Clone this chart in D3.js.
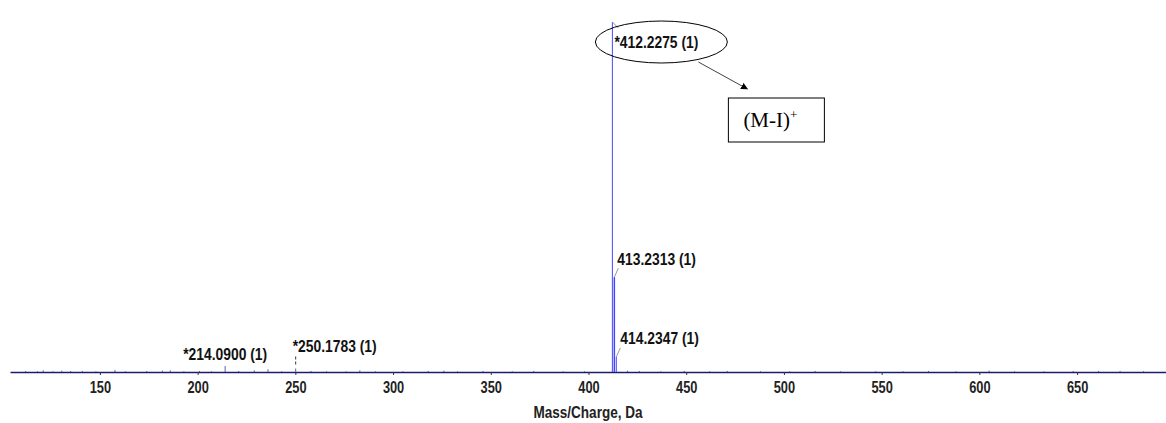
<!DOCTYPE html>
<html>
<head>
<meta charset="utf-8">
<script src="https://cdn.jsdelivr.net/npm/d3@7"></script>
<style>
  body { margin: 0; background: #fff; }
  svg text { font-family: "Liberation Sans Narrow", "Arial Narrow", "Liberation Sans", sans-serif; }
</style>
</head>
<body>
<svg id="canvas"></svg>
<script>
let width = 1166
let height = 423

// labelled peaks (m/z, relative intensity %)
let peakMz = [412.2275, 413.2313, 414.2347, 214.0900, 250.1783]
let peakInt = [100, 27.1, 4.3, 1.7, 1.0]
let peakLabels = ['*412.2275 (1)', '413.2313 (1)', '414.2347 (1)', '*214.0900 (1)', '*250.1783 (1)']

// small unlabelled peaks along the baseline
let noiseMz = [112, 118, 121, 126, 130.5, 135, 141, 148, 157.7, 163, 174, 182, 186, 193, 201, 207, 221, 229, 236, 243, 258, 266, 276, 283, 291, 305, 318, 326, 333, 346, 361, 372, 387, 398, 420, 426, 437, 449, 462, 471, 488, 503, 516, 529, 547, 561, 574, 588, 605, 618, 633, 648, 661, 672, 684]
let noiseInt = [0.3, 0.2, 0.5, 0.2, 0.4, 0.3, 0.3, 0.2, 0.6, 0.2, 0.3, 0.4, 0.5, 0.2, 0.3, 0.2, 0.3, 0.5, 0.8, 0.2, 0.3, 0.2, 0.2, 0.5, 0.2, 0.2, 0.3, 0.4, 0.2, 0.3, 0.2, 0.3, 0.2, 0.2, 0.4, 0.3, 0.2, 0.3, 0.2, 0.3, 0.2, 0.2, 0.3, 0.2, 0.2, 0.2, 0.3, 0.2, 0.4, 0.2, 0.2, 0.3, 0.3, 0.3, 0.2]

let tickValues = [150, 200, 250, 300, 350, 400, 450, 500, 550, 600, 650]
let xTitle = 'Mass/Charge, Da'
let ionText = '(M-I)'
let ionSup = '+'

let canvas = d3.select('#canvas')
canvas.attr('width', width)
      .attr('height', height)

let xScale = d3.scaleLinear()
               .domain([104, 695.5])
               .range([10, 1166])

let yScale = d3.scaleLinear()
               .domain([0, 100])
               .range([372, 22])

// squeeze text horizontally to mimic a narrow font
function narrow(sel, k) {
  sel.each(function() {
    let w = this.getComputedTextLength()
    d3.select(this).attr('textLength', w * (k || 0.85)).attr('lengthAdjust', 'spacingAndGlyphs')
  })
}

/*baseline noise*/
canvas.append('g')
  .selectAll('line')
  .data(noiseMz.map((m, i) => ({ m: m, v: noiseInt[i] })))
  .enter()
  .append('line')
  .attr('x1', d => xScale(d.m))
  .attr('x2', d => xScale(d.m))
  .attr('y1', yScale(0) + 1)
  .attr('y2', d => yScale(d.v))
  .attr('stroke', '#6a6ab8')
  .attr('stroke-width', 1)

/*axis*/
let axis = canvas.append('g')
  .attr('transform', 'translate(0,' + yScale(0) + ')')
  .call(d3.axisBottom(xScale).tickValues(tickValues).tickSize(3).tickPadding(7).tickSizeOuter(0))
axis.select('.domain').attr('stroke', '#1c1c6e').attr('stroke-width', 1.6)
axis.selectAll('.tick line').attr('stroke', '#333')
axis.selectAll('.tick text')
  .attr('font-size', 16)
  .attr('font-family', '"Liberation Sans Narrow", "Arial Narrow", "Liberation Sans", sans-serif')
  .attr('font-weight', 'bold')
  .attr('fill', '#222')
  .call(narrow, 0.8)

canvas.append('text')
  .attr('x', 588)
  .attr('y', 418)
  .attr('text-anchor', 'middle')
  .attr('font-size', 16.5)
  .attr('font-weight', 'bold')
  .attr('fill', '#222')
  .text(xTitle)
  .call(narrow, 0.82)

/*peaks*/
let peaks = peakMz.map((m, i) => ({ m: m, v: peakInt[i], label: peakLabels[i] }))
canvas.append('g')
  .selectAll('line')
  .data(peaks)
  .enter()
  .append('line')
  .attr('x1', d => xScale(d.m))
  .attr('x2', d => xScale(d.m))
  .attr('y1', yScale(0))
  .attr('y2', d => yScale(d.v))
  .attr('stroke', (d, i) => i < 3 ? '#4646ff' : '#5a5ab8')
  .attr('stroke-width', (d, i) => i === 1 ? 1.5 : 1)

// label layout: offsets of text start relative to peak top, leader style
let layout = [
  { dx: 2, dy: 20, anchor: 'start', leader: 'diag' },
  { dx: 3, dy: -18, anchor: 'start', leader: 'diag' },
  { dx: 4, dy: -19, anchor: 'start', leader: 'diag' },
  { dx: 0, dy: -12, anchor: 'middle', leader: 'none' },
  { dx: -3, dy: -22, anchor: 'start', leader: 'dash' }
]

peaks.forEach((d, i) => {
  let px = xScale(d.m)
  let py = yScale(d.v)
  let l = layout[i]
  canvas.append('text')
    .attr('x', px + l.dx)
    .attr('y', py + l.dy)
    .attr('dy', '0.35em')
    .attr('text-anchor', l.anchor)
    .attr('font-size', 16.5)
    .attr('font-weight', 'bold')
    .attr('fill', '#111')
    .text(d.label)
    .call(narrow, 0.84)
  if (l.leader === 'diag') {
    let up = l.dy < 0
    canvas.append('line')
      .attr('x1', px)
      .attr('y1', py)
      .attr('x2', px + (up ? 4 : 6))
      .attr('y2', py + (up ? -9 : 6))
      .attr('stroke', '#999')
      .attr('stroke-width', 1)
  } else if (l.leader === 'dash') {
    canvas.append('line')
      .attr('x1', px)
      .attr('y1', py - 12)
      .attr('x2', px)
      .attr('y2', py - 4)
      .attr('stroke', '#333')
      .attr('stroke-dasharray', '3,2')
  }
})

/*annotation: ellipse, arrow, box*/
let topX = xScale(peakMz[0])
let topY = yScale(peakInt[0])

canvas.append('ellipse')
  .attr('cx', topX + 49)
  .attr('cy', topY + 20)
  .attr('rx', 66)
  .attr('ry', 21)
  .attr('fill', 'none')
  .attr('stroke', '#000')
  .attr('stroke-width', 1)

canvas.append('defs').append('marker')
  .attr('id', 'arrow')
  .attr('viewBox', '0 0 10 10')
  .attr('refX', 9).attr('refY', 5)
  .attr('markerWidth', 7).attr('markerHeight', 7)
  .attr('orient', 'auto')
  .append('path')
  .attr('d', 'M0,0 L10,5 L0,10 z')
  .attr('fill', '#000')

canvas.append('line')
  .attr('x1', topX + 86)
  .attr('y1', topY + 40)
  .attr('x2', topX + 135)
  .attr('y2', topY + 67)
  .attr('stroke', '#444')
  .attr('stroke-width', 1)
  .attr('marker-end', 'url(#arrow)')

canvas.append('rect')
  .attr('x', topX + 116)
  .attr('y', topY + 76)
  .attr('width', 96)
  .attr('height', 44)
  .attr('fill', '#fff')
  .attr('stroke', '#000')
  .attr('stroke-width', 1)

let ion = canvas.append('text')
  .attr('x', topX + 131)
  .attr('y', topY + 105)
  .attr('font-size', 21)
  .style('font-family', '"Liberation Serif", "Times New Roman", serif')
  .attr('fill', '#000')
ion.append('tspan').text(ionText)
ion.append('tspan').attr('dy', -8).attr('font-size', 13).text(ionSup)
</script>
</body>
</html>
